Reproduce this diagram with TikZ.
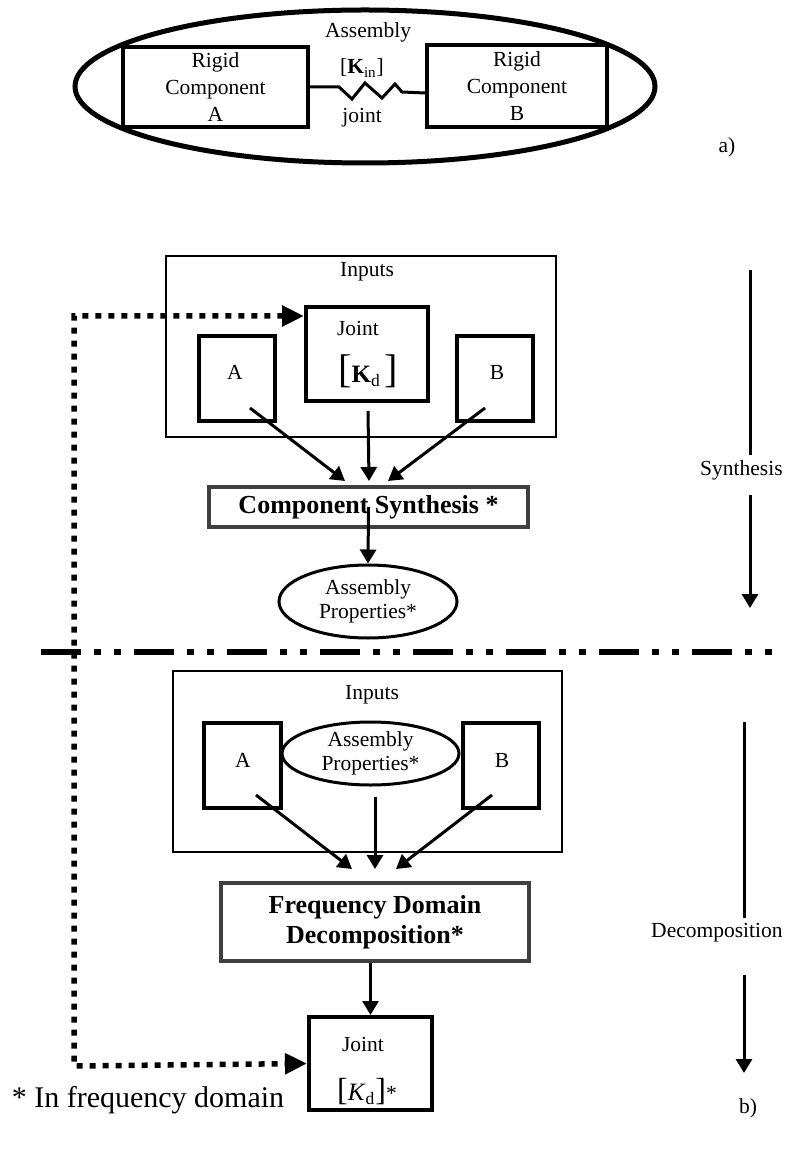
\documentclass[tikz,border=0pt]{standalone}
\usepackage{fontspec}
\setmainfont{Liberation Serif}
\usetikzlibrary{arrows.meta,shapes.geometric}

\newcommand{\sizedtext}[2]{{\fontsize{#1}{#1}\selectfont #2}}

\begin{document}
\begin{tikzpicture}[x=0.5pt, y=-0.5pt,
  every node/.style={font=\fontsize{10.75}{13.5}\selectfont, inner sep=0pt, align=center},
  thickbox/.style={draw, line width=2pt},
  thinbox/.style={draw, line width=1pt},
  taskbox/.style={draw=black!75, line width=2pt, font=\fontsize{13}{15}\selectfont\bfseries},
  propsell/.style={draw, ellipse, line width=1.5pt, font=\fontsize{10.75}{12}\selectfont},
  flow/.style={line width=1.5pt, -{Triangle[length=7pt,width=8pt]}},
  sideline/.style={line width=1.5pt},
  sidearrow/.style={line width=1.5pt, -{Triangle[length=7pt,width=8pt]}},
  feedback/.style={line width=2.75pt, dash pattern=on 3pt off 3.5pt,
    {Triangle[length=11pt,width=10pt]}-{Triangle[length=11pt,width=10pt]}},
  splitline/.style={line width=3pt, dash pattern=on 20pt off 6.5pt on 3.5pt off 6.5pt on 3.5pt off 6.5pt}
]

  \useasboundingbox (0,0) rectangle (784,1149);

  % ***************** a) ASSEMBLY *****************
  \node[draw, ellipse, line width=2.5pt, minimum width=290pt, minimum height=76.5pt] (assembly) at (365,86.5) {};
  \node (assemblylbl) at (368,32) {Assembly};

  \node[thickbox, minimum width=92.5pt, minimum height=40pt] (rigida) at (215.5,87) {Rigid\\Component\\A};
  \node[thickbox, minimum width=90pt, minimum height=41pt] (rigidb) at (517,86) {Rigid\\Component\\B};

  \draw[line width=1.5pt, line join=miter] (rigida.east) -- ++(29,0) -- ++(13,12) -- ++(13,-16)
    -- ++(17,15) -- ++(13,-14) -- ++(7,8) -- ([yshift=-3.5pt]rigidb.west);
  \node (kin) at (362,68) {[\textbf{K}\textsubscript{in}]};
  \node (jointlbl) at (362,118) {joint};

  \node (figa) at (727,147) {a)};

  % ***************** SYNTHESIS *****************
  \node[thinbox, minimum width=195pt, minimum height=90.5pt] (inputsyn) at (361,346.5) {};
  \node (inputsynlbl) at (367,272) {Inputs};

  \node[thickbox, minimum width=38pt, minimum height=42.5pt] (synA) at (237,378.5) {};
  \node (synAlbl) at (235,372) {A};
  \node[thickbox, minimum width=38pt, minimum height=42.5pt] (synB) at (495,378.5) {};
  \node (synBlbl) at (497,372) {B};

  \node[thickbox, minimum width=61pt, minimum height=47pt] (jointsyn) at (367,354) {};
  \node (jointsynlbl) at (358,328) {Joint};
  \node (kdsyn) at (368,371) {\sizedtext{20}{[}{\fontsize{12.5}{12.5}\selectfont\textbf{K}\textsubscript{d}}\,\sizedtext{20}{]}};

  \node[taskbox, minimum width=159.5pt, minimum height=20pt] (compsyn) at (368.5,507) {Component Synthesis *};

  \draw[flow] ([shift={(13,29.5)}]synA.center) -- ([shift={(-23.5,-4)}]compsyn.north);
  \draw[flow] ([shift={(1,8)}]jointsyn.south) -- ([shift={(0.5,-4)}]compsyn.north);
  \draw[flow] ([shift={(-10,29.5)}]synB.center) -- ([shift={(19.5,-4)}]compsyn.north);

  \node[propsell, minimum width=89pt, minimum height=36.5pt] (propsyn) at (368,601.5) {Assembly\\Properties*};
  \draw[flow] (compsyn.center) -- (propsyn.north);

  \node[anchor=east] (synlbl) at (783,470) {Synthesis};
  \coordinate (syn1) at (750,270);
  \coordinate (syn2) at (750,455);
  \coordinate (syn3) at (750,495);
  \coordinate (syn4) at (750,608);
  \draw[sideline] (syn1) -- (syn2);
  \draw[sidearrow] (syn3) -- (syn4);

  % ***************** SPLIT *****************
  \coordinate (splitL) at (41,652);
  \coordinate (splitR) at (784,652);
  \draw[splitline] (splitL) -- (splitR);

  % ***************** DECOMPOSITION *****************
  \node[thinbox, minimum width=194.5pt, minimum height=90.5pt] (inputdec) at (367.5,761.5) {};
  \node (inputdeclbl) at (372,695) {Inputs};

  \node[thickbox, minimum width=38.5pt, minimum height=42.5pt] (decA) at (242.5,765.5) {};
  \node (decAlbl) at (243,760) {A};
  \node[thickbox, minimum width=38pt, minimum height=42.5pt] (decB) at (501,765.5) {};
  \node (decBlbl) at (502,760) {B};

  \node[propsell, minimum width=88.5pt, minimum height=31.5pt] (propdec) at (370.5,753.5) {Assembly\\Properties*};

  \node[taskbox, minimum width=154pt, minimum height=39pt] (freqdec) at (375,922) {Frequency Domain\\Decomposition*};

  \draw[flow] ([shift={(13.5,29.5)}]decA.center) -- ([shift={(-23,-12)}]freqdec.north);
  \draw[flow] ([shift={(4.5,10)}]propdec.south) -- ([shift={(0,-12)}]freqdec.north);
  \draw[flow] ([shift={(-9,29.5)}]decB.center) -- ([shift={(21,-12)}]freqdec.north);

  \node[thickbox, minimum width=61.5pt, minimum height=46.5pt] (jointdec) at (370.5,1063.5) {};
  \node (jointdeclbl) at (363,1044) {Joint};
  \node (kddec) at (367,1092) {\sizedtext{16}{[}{\fontsize{12.5}{12.5}\selectfont\textit{K}\textsubscript{d}}\sizedtext{16}{]}*};

  \draw[flow] (freqdec.south -| jointdec.north) -- (jointdec.north);

  \node[anchor=east] (declbl) at (783,933) {Decomposition};
  \coordinate (dec1) at (744,722);
  \coordinate (dec2) at (744,918);
  \coordinate (dec3) at (744,975);
  \coordinate (dec4) at (744,1073);
  \draw[sideline] (dec1) -- (dec2);
  \draw[sidearrow] (dec3) -- (dec4);

  % ***************** FEEDBACK *****************
  \coordinate (fbtop) at (74,316);
  \coordinate (fbbot) at (74,1066);
  \draw[feedback] ([yshift=19pt]jointsyn.west) -- (fbtop) -- (fbbot) -- (jointdec.west);

  \node[font=\fontsize{15}{15}\selectfont] (note) at (148,1100) {* In frequency domain};
  \node (figb) at (748,1108) {b)};

\end{tikzpicture}
\end{document}
